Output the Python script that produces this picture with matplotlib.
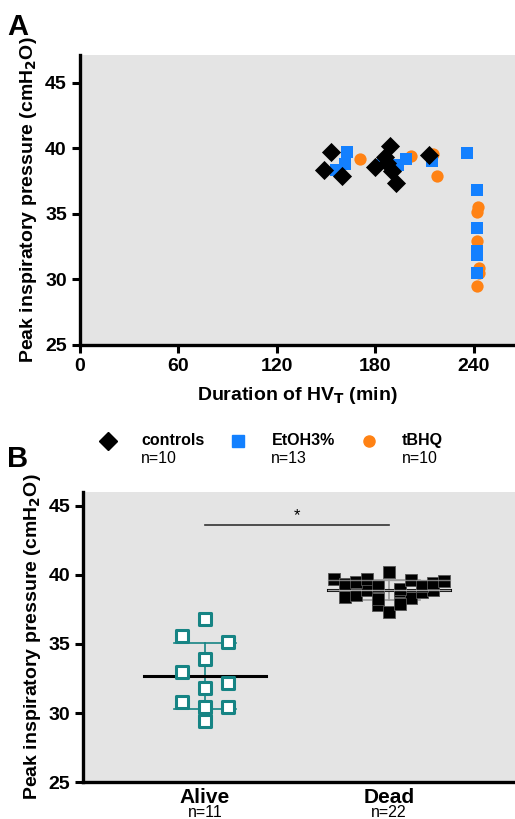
import numpy as np
import matplotlib.pyplot as plt

plt.rcParams['font.family'] = ['Liberation Sans', 'DejaVu Sans']

# panel A: duration of HVT (min) and peak inspiratory pressure (cmH2O)
ctrl_t = [148.7, 152.8, 159.7, 180.0, 185.6, 188.7, 187.3, 190.3, 192.7, 212.4]
ctrl_p = [38.36, 39.70, 37.85, 38.56, 39.33, 40.20, 38.87, 38.23, 37.34, 39.50]
etoh_t = [162.9, 161.7, 156.2, 193.8, 198.8, 184.6, 214.6, 235.7,
          241.6, 241.6, 241.6, 241.6, 241.6]
etoh_p = [39.70, 38.82, 38.30, 38.74, 39.20, 38.90, 39.00, 39.63,
          36.82, 33.94, 32.16, 31.85, 30.47]
tbhq_t = [170.6, 201.9, 215.0, 217.7, 242.6, 241.6, 241.6, 242.8, 242.8, 241.6]
tbhq_p = [39.20, 39.43, 39.55, 37.90, 35.54, 35.17, 32.96, 30.83, 30.47, 29.46]

legend_names = ['controls', 'EtOH3%', 'tBHQ']
legend_n = ['n=10', 'n=13', 'n=10']
groups = ['Alive', 'Dead']
group_n = ['n=11', 'n=22']

END_TIME = 240  # animals still ventilated at the end survived

# panel B built from panel A
all_t = np.array(ctrl_t + etoh_t + tbhq_t)
all_p = np.array(ctrl_p + etoh_p + tbhq_p)
alive = all_p[all_t >= END_TIME]
dead = all_p[all_t < END_TIME]


def scatter_offsets(vals, half_width, max_step, by_value=True):
    # prism-like: bin by 1 cmH2O and spread each bin sideways
    bins = np.floor(vals).astype(int)
    counts = {b: (bins == b).sum() for b in set(bins)}
    biggest = max(counts.values())
    step = min(max_step, half_width / (biggest // 2))
    offs = np.zeros(len(vals))
    for b in counts:
        idx = np.where(bins == b)[0]
        if by_value:
            idx = idx[np.argsort(-vals[idx], kind='stable')]
        n = len(idx)
        if n % 2:
            slots = np.arange(n) - n // 2
        else:
            slots = np.concatenate([np.arange(-n // 2, 0), np.arange(1, n // 2 + 1)])
        offs[idx] = slots * step
    return offs


fig = plt.figure(figsize=(5.15, 8.19), dpi=100)
bg = '#e4e4e4'
blue = '#1380ff'
orange = '#ff8214'
teal = '#168484'


def style(ax):
    ax.set_facecolor(bg)
    for s in ['top', 'right']:
        ax.spines[s].set_visible(False)
    for s in ['left', 'bottom']:
        ax.spines[s].set_linewidth(2.4)
    ax.tick_params(width=2.2, length=6, labelsize=14)
    for lab in ax.get_xticklabels() + ax.get_yticklabels():
        lab.set_fontweight('bold')


ylab = 'Peak inspiratory pressure (cmH$_\\mathbf{2}$O)'

# ---- panel A
ax = fig.add_axes([0.1553, 0.5788, 0.8447, 0.354])
ax.scatter(tbhq_t, tbhq_p, marker='o', s=78, color=orange, lw=0, zorder=3)
ax.scatter(etoh_t, etoh_p, marker='s', s=80, color=blue, lw=0, zorder=4)
ax.scatter(ctrl_t, ctrl_p, marker='D', s=95, color='black', lw=0, zorder=5)
ax.set_xlim(0, 265)
ax.set_ylim(25, 47.1)
ax.set_xticks([0, 60, 120, 180, 240])
ax.set_yticks([25, 30, 35, 40, 45])
style(ax)
ax.set_xlabel('Duration of HV$_\\mathbf{T}$ (min)', fontsize=14, fontweight='bold', labelpad=7)
ax.set_ylabel(ylab, fontsize=14, fontweight='bold', labelpad=4)
fig.text(0.014, 0.984, 'A', fontsize=21, fontweight='bold', va='top')

# legend between the panels
mk = ['D', 's', 'o']
cols = ['black', blue, orange]
for j in range(3):
    x0 = 0.21 + j * 0.253
    fig.add_artist(plt.Line2D([x0], [0.462], marker=mk[j], color=cols[j], ms=8 if j else 9,
                              lw=0, transform=fig.transFigure))
    fig.text(x0 + 0.064, 0.462, legend_names[j], fontsize=11.5, fontweight='bold', va='center')
    fig.text(x0 + 0.064, 0.440, legend_n[j], fontsize=11.5, va='center')

# ---- panel B
bx = fig.add_axes([0.1618, 0.0448, 0.8382, 0.3548])
bx.set_xlim(-0.662, 1.685)
bx.set_ylim(25, 46.0)
for k, (vals, face, edge) in enumerate([(alive, 'white', teal), (dead, 'black', '#555555')]):
    offs = scatter_offsets(vals, 0.30, 0.127, by_value=(k == 0))
    m, sd = vals.mean(), vals.std(ddof=1)
    ecol = teal if k == 0 else '#9a9a9a'
    bx.plot([k, k], [m - sd, m + sd], color=ecol, lw=1.2, zorder=2)
    bx.plot([k - 0.167, k + 0.167], [m + sd] * 2, color=ecol, lw=1.2, zorder=2)
    bx.plot([k - 0.167, k + 0.167], [m - sd] * 2, color=ecol, lw=1.2, zorder=2)
    bx.plot([k - 0.33, k + 0.33], [m, m], color='black', lw=2.2, zorder=2)
    bx.scatter(k + offs, vals, marker='s', s=85, facecolor=face, edgecolor=edge,
               lw=2.2 if k == 0 else 0.6, zorder=3)
    if k == 1:
        bx.plot([k - 0.33, k + 0.33], [m + sd] * 2, color=ecol, lw=1.0, zorder=4, alpha=0.8)
        bx.plot([k - 0.33, k + 0.33], [m, m], color='#cccccc', lw=1.0, zorder=4, alpha=0.8)
bx.plot([0, 1], [43.6, 43.6], color='#333333', lw=1.2)
bx.text(0.5, 43.75, '*', ha='center', va='bottom', fontsize=12)
bx.set_xticks([0, 1])
bx.set_xticklabels(groups)
bx.set_yticks([25, 30, 35, 40, 45])
style(bx)
bx.tick_params(axis='x', length=0, pad=4)
for lab in bx.get_xticklabels():
    lab.set_fontsize(15)
for j, n in enumerate(group_n):
    bx.text(j, -0.105, n, transform=bx.get_xaxis_transform(), ha='center', va='center', fontsize=11.5)
bx.set_ylabel(ylab, fontsize=14, fontweight='bold', labelpad=4)
fig.text(0.014, 0.457, 'B', fontsize=21, fontweight='bold', va='top')

fig.savefig('out.png', dpi=100)
